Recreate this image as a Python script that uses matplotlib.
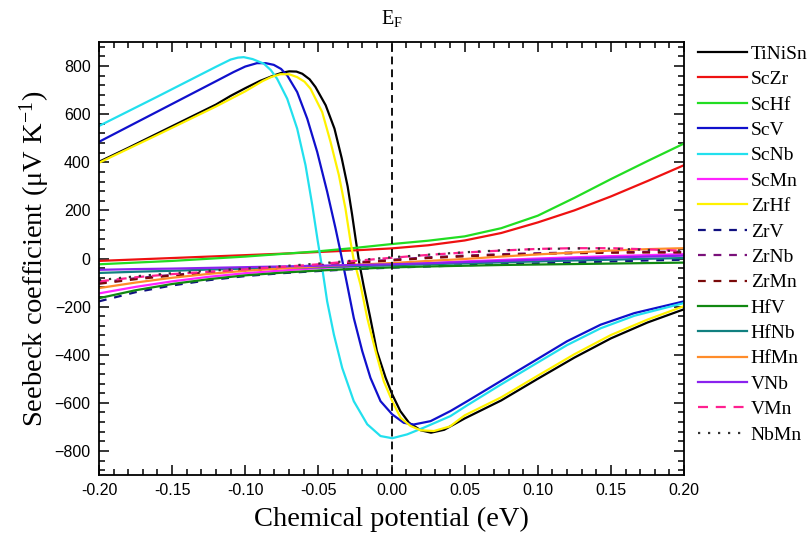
import matplotlib
matplotlib.use("Agg")
import matplotlib.pyplot as plt
from matplotlib.ticker import MultipleLocator, FormatStrFormatter

plt.rcParams['font.family'] = ['Liberation Serif', 'DejaVu Serif']
plt.rcParams['mathtext.fontset'] = 'custom'
plt.rcParams['mathtext.rm'] = 'Liberation Serif'
plt.rcParams['mathtext.it'] = 'Liberation Serif:italic'

# ---- data: Seebeck coefficient (uV/K) versus chemical potential (eV) ----
E_tinisn = [-0.200, -0.180, -0.160, -0.140, -0.120, -0.110, -0.100, -0.090, -0.080,
            -0.075, -0.070, -0.065, -0.061, -0.056, -0.052, -0.045, -0.039, -0.034,
            -0.030, -0.027, -0.0245, -0.022, -0.019, -0.0145, -0.010, -0.004, 0.0005,
            0.006, 0.012, 0.020, 0.027, 0.036, 0.050, 0.075, 0.100, 0.125, 0.150,
            0.175, 0.200]
S_tinisn = [402, 460, 520, 580, 640, 676, 708, 738, 762,
            772, 778, 777, 768, 745, 713, 637, 540, 416,
            300, 185, 80, -20, -115, -247, -385, -496, -565,
            -634, -683, -714, -724, -712, -665, -590, -500, -412, -332,
            -266, -211]

E_zrhf = [-0.200, -0.180, -0.160, -0.140, -0.120, -0.100, -0.088, -0.082, -0.076,
          -0.070, -0.0645, -0.0595, -0.0554, -0.0474, -0.0417, -0.036, -0.0315,
          -0.028, -0.026, -0.0212, -0.0166, -0.0109, -0.0053, 0.0005, 0.0062,
          0.013, 0.0198, 0.029, 0.040, 0.050, 0.075, 0.100, 0.125, 0.150, 0.175,
          0.200]
S_zrhf = [398, 456, 514, 573, 632, 695, 738, 755, 766,
          766, 754, 735, 706, 609, 485, 347, 208,
          70, 0, -109, -247, -385, -510, -593, -662,
          -696, -714, -717, -698, -652, -577, -487, -398, -318, -254,
          -198]

E_scv = [-0.200, -0.180, -0.160, -0.140, -0.120, -0.108, -0.100, -0.092, -0.086,
         -0.0805, -0.0755, -0.0713, -0.0645, -0.0576, -0.0508, -0.044, -0.0383,
         -0.0349, -0.0303, -0.0258, -0.020, -0.0144, -0.0075, 0.0005, 0.0084,
         0.0152, 0.0267, 0.0403, 0.0518, 0.0745, 0.0973, 0.120, 0.143, 0.166, 0.200]
S_scv = [485, 548, 611, 674, 737, 775, 798, 812, 812,
         805, 788, 761, 692, 581, 443, 278, 126,
         29, -109, -247, -385, -496, -593, -648, -683,
         -690, -676, -634, -593, -510, -427, -344, -275, -227, -178]

E_scnb = [-0.200, -0.180, -0.160, -0.140, -0.120, -0.110, -0.105, -0.101, -0.095,
          -0.0873, -0.0825, -0.0782, -0.0713, -0.0645, -0.0588, -0.0542, -0.0505,
          -0.047, -0.044, -0.0394, -0.0337, -0.0258, -0.0166, -0.0075, 0.0005,
          0.0107, 0.0221, 0.0403, 0.0518, 0.0745, 0.0973, 0.120, 0.143, 0.166, 0.200]
S_scnb = [551, 612, 673, 735, 797, 827, 835, 837, 829,
          810, 783, 747, 664, 540, 388, 223, 75,
          -55, -178, -316, -455, -593, -689, -738, -747,
          -731, -703, -655, -610, -525, -442, -360, -290, -238, -185]

# alloys with small thermopower share one potential grid
E_grid = [-0.200, -0.175, -0.150, -0.125, -0.100, -0.075, -0.050, -0.025, 0.000,
          0.025, 0.050, 0.075, 0.100, 0.125, 0.150, 0.175, 0.200]
S_sczr = [-10, -4, 2, 8, 14, 20, 27, 34, 42, 55, 75, 106, 150, 200, 258, 322, 388]
S_schf = [-24, -17, -10, -1, 8, 19, 30, 44, 60, 74, 92, 126, 178, 252, 330, 405, 478]
S_scmn = [-145, -118, -95, -76, -61, -50, -40, -32, -26, -19, -12, -6, 0, 5, 10, 14, 18]
S_zrv = [-178, -140, -112, -90, -73, -61, -52, -44, -38, -33, -28, -24, -20, -16, -12, -8, -5]
S_zrnb = [-100, -82, -68, -57, -48, -38, -28, -16, -5, 5, 12, 18, 22, 25, 27, 28, 28]
S_zrmn = [-105, -86, -71, -60, -50, -40, -30, -19, -8, 2, 9, 15, 19, 22, 24, 25, 25]
S_hfv = [-165, -132, -106, -86, -70, -59, -50, -43, -37, -33, -30, -27, -25, -23, -21, -19, -17]
S_hfnb = [-60, -55, -51, -46, -42, -39, -36, -32, -28, -24, -20, -16, -12, -8, -5, -1, 2]
S_hfmn = [-123, -100, -80, -64, -51, -41, -33, -26, -19, -10, -2, 8, 17, 25, 33, 39, 43]
S_vnb = [-47, -44, -42, -39, -36, -33, -30, -27, -24, -20, -15, -10, -5, 0, 4, 8, 12]
S_vmn = [-95, -78, -65, -55, -45, -35, -24, -10, 3, 15, 25, 33, 40, 43, 43, 38, 32]
S_nbmn = [-90, -74, -61, -51, -42, -32, -21, -8, 5, 16, 26, 34, 39, 42, 41, 36, 29]

labels = ['TiNiSn', 'ScZr', 'ScHf', 'ScV', 'ScNb', 'ScMn', 'ZrHf', 'ZrV', 'ZrNb',
          'ZrMn', 'HfV', 'HfNb', 'HfMn', 'VNb', 'VMn', 'NbMn']

series = {
    'TiNiSn': (E_tinisn, S_tinisn),
    'ScZr': (E_grid, S_sczr),
    'ScHf': (E_grid, S_schf),
    'ScV': (E_scv, S_scv),
    'ScNb': (E_scnb, S_scnb),
    'ScMn': (E_grid, S_scmn),
    'ZrHf': (E_zrhf, S_zrhf),
    'ZrV': (E_grid, S_zrv),
    'ZrNb': (E_grid, S_zrnb),
    'ZrMn': (E_grid, S_zrmn),
    'HfV': (E_grid, S_hfv),
    'HfNb': (E_grid, S_hfnb),
    'HfMn': (E_grid, S_hfmn),
    'VNb': (E_grid, S_vnb),
    'VMn': (E_grid, S_vmn),
    'NbMn': (E_grid, S_nbmn),
}

styles = {
    'TiNiSn': dict(color='#000000'),
    'ScZr': dict(color='#EE1111'),
    'ScHf': dict(color='#22DD22'),
    'ScV': dict(color='#1010CC'),
    'ScNb': dict(color='#22E0EE'),
    'ScMn': dict(color='#FF22FF'),
    'ZrHf': dict(color='#FFF200'),
    'ZrV': dict(color='#101080', dashes=(3.5, 3.5)),
    'ZrNb': dict(color='#7A117A', dashes=(3.5, 3.5)),
    'ZrMn': dict(color='#7A0A0A', dashes=(3.5, 3.5)),
    'HfV': dict(color='#118811'),
    'HfNb': dict(color='#118080'),
    'HfMn': dict(color='#FF8C2A'),
    'VNb': dict(color='#8A22EE'),
    'VMn': dict(color='#FF2090', dashes=(4.5, 3.5)),
    'NbMn': dict(color='#333333', dashes=(1, 3.5)),
}

fig = plt.figure(figsize=(8.12, 5.35), dpi=100)
ax = fig.add_axes([0.1219, 0.1121, 0.7205, 0.8094])

for name in labels:
    E, S = series[name]
    ax.plot(E, S, lw=1.6, label=name, **styles[name])

ax.axvline(0.0, color='#111111', lw=1.4, dashes=(4, 2.6))

ax.set_xlim(-0.2, 0.2)
ax.set_ylim(-900, 900)
ax.xaxis.set_major_locator(MultipleLocator(0.05))
ax.xaxis.set_minor_locator(MultipleLocator(0.01))
ax.yaxis.set_major_locator(MultipleLocator(200))
ax.yaxis.set_minor_locator(MultipleLocator(40))
ax.xaxis.set_major_formatter(FormatStrFormatter('%.2f'))
ax.set_yticks([-800, -600, -400, -200, 0, 200, 400, 600, 800])

ax.tick_params(which='both', direction='in', top=True, right=True, width=1.1)
ax.tick_params(which='major', length=7, pad=6)
ax.tick_params(which='minor', length=4)
for lab in ax.get_xticklabels() + ax.get_yticklabels():
    lab.set_fontfamily('Liberation Sans')
    lab.set_fontsize(11.5)
for sp in ax.spines.values():
    sp.set_linewidth(1.3)

ax.set_xlabel('Chemical potential (eV)', fontsize=20.5, labelpad=6)
ax.set_ylabel('Seebeck coefficient (μV K$^{-1}$)', fontsize=20.5, labelpad=1.5)

ax.text(0.0, 1.03, 'E$_\\mathregular{F}$', transform=ax.get_xaxis_transform(),
        ha='center', va='bottom', fontsize=14.5)

fig.legend(loc='upper left', bbox_to_anchor=(0.860, 0.9155), frameon=False,
           fontsize=14, handlelength=2.5, handletextpad=0.2, labelspacing=0.40,
           borderpad=0, borderaxespad=0)

fig.savefig('out.png', dpi=100)
